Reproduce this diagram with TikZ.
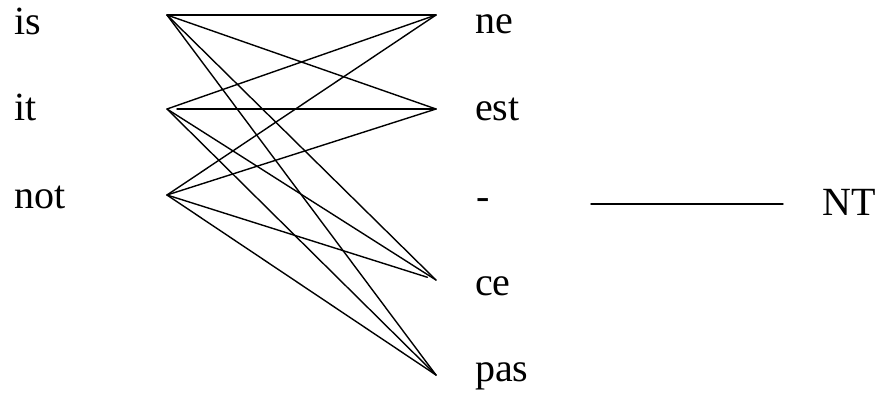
\documentclass[tikz,border=0pt]{standalone}
\usepackage{fontspec}
\setmainfont{Liberation Serif}
\begin{document}
\begin{tikzpicture}[x=1pt,y=-1pt,
  word/.style={anchor=base west,inner sep=0pt,font=\fontsize{40}{40}\selectfont},
  link/.style={line width=1.4pt,line cap=round}]
\useasboundingbox (0,0) rectangle (883,400);
% words
\node[word] (is)  at (14,34)  {is};
\node[word] (it)  at (14,120) {it};
\node[word] (not) at (14,208) {not};
\node[word] (ne)  at (475,33)  {ne};
\node[word] (est) at (475,120) {est};
\node[word] (dash) at (476,209) {-};
\node[word] (ce)  at (475,295) {ce};
\node[word] (pas) at (475,381) {pas};
\node[word] (nt)  at (822,215) {NT};
% link ends
\coordinate (lis)  at (167,15);
\coordinate (lit)  at (167,109);
\coordinate (lnot) at (167,195);
\coordinate (rne)  at (436,15);
\coordinate (rest) at (436,109);
\coordinate (rce)  at (436,280);
\coordinate (rpas) at (436,375);
\coordinate (ntl)  at (591,204);
\coordinate (ntr)  at (783,204);
% links
\draw[link] (lis) -- (rne);
\draw[link] (lis) -- (rest);
\draw[link] (lis) -- (rce);
\draw[link] (lis) -- (rpas);
\draw[link] (lit) -- (rne);
\draw[link,shorten <=10pt] (lit) -- (rest);
\draw[link] (lit) -- (rce);
\draw[link] (lit) -- (rpas);
\draw[link] (lnot) -- (rne);
\draw[link] (lnot) -- (rest);
\draw[link,shorten >=9pt] (lnot) -- (rce);
\draw[link] (lnot) -- (rpas);
\draw[link] (ntl) -- (ntr);
\end{tikzpicture}
\end{document}
